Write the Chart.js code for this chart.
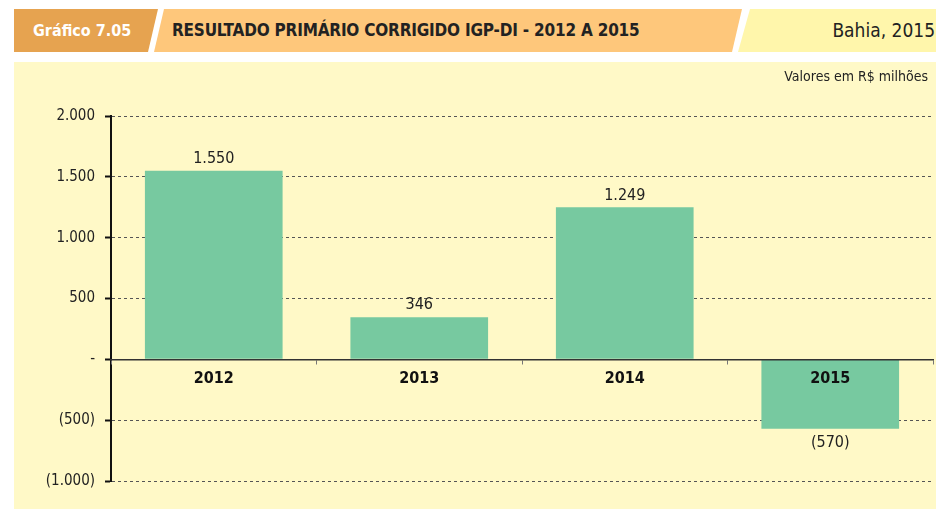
<!DOCTYPE html>
<html lang="pt-BR">
<head>
  <meta charset="UTF-8" />
  <title>Resultado primário corrigido IGP-DI - Bahia</title>
  <script src="https://cdn.jsdelivr.net/npm/chart.js"></script>
  <style>
    body {
      margin: 0;
      width: 936px;
      height: 509px;
      background: #fff;
      font-family: 'Liberation Sans Narrow', 'DejaVu Sans Condensed', 'Open Sans', sans-serif;
      position: relative;
      overflow: hidden;
    }
    .hdr {
      position: absolute; top: 9px; height: 43px; line-height: 43px;
      white-space: nowrap; overflow: hidden;
    }
    #tag {
      left: 14px; width: 144px; background: #E6A350;
      clip-path: polygon(0 0, 144px 0, 134px 43px, 0 43px);
      color: #fff; font-weight: bold; font-size: 16px;
    }
    #tag span { position: absolute; left: 19px; }
    #title {
      left: 154px; width: 588px; background: #FEC77B;
      clip-path: polygon(10px 0, 588px 0, 578px 43px, 0 43px);
      color: #222; font-weight: bold; font-size: 17px;
    }
    #title span { position: absolute; left: 18px; letter-spacing: -0.2px; }
    #place {
      left: 738px; width: 198px; background: #FFF6AB;
      clip-path: polygon(12px 0, 198px 0, 198px 43px, 0 43px);
      color: #222; font-size: 19px;
    }
    #place span { position: absolute; right: 1px; }
    #panel {
      position: absolute; left: 14px; top: 62px; width: 922px; height: 447px;
      background: #FFF9C7;
    }
    #unit {
      position: absolute; right: 8px; top: 6px; font-size: 14px; color: #222;
    }
  </style>
</head>
<body>
  <div class="hdr" id="tag"><span>Gráfico 7.05</span></div>
  <div class="hdr" id="title"><span>RESULTADO PRIMÁRIO CORRIGIDO IGP-DI - 2012 A 2015</span></div>
  <div class="hdr" id="place"><span>Bahia, 2015</span></div>
  <div id="panel">
    <div id="unit">Valores em R$ milhões</div>
    <canvas id="chart" width="922" height="447"></canvas>
  </div>

  <script>
    const years = ['2012', '2013', '2014', '2015'];
    const resultado = [1550, 346, 1249, -570];
    const yTicks = [-1000, -500, 0, 500, 1000, 1500, 2000];

    const FONT = "'Liberation Sans Narrow', 'DejaVu Sans Condensed', 'Open Sans', sans-serif";

    function fmt(v) {
      if (v === 0) return '-';
      const s = Math.abs(v).toString().replace(/\B(?=(\d{3})+(?!\d))/g, '.');
      return v < 0 ? '(' + s + ')' : s;
    }

    // value labels above positive bars, below negative ones
    const valueLabels = {
      id: 'valueLabels',
      afterDraw(chart) {
        const ctx = chart.ctx;
        const meta = chart.getDatasetMeta(0);
        ctx.save();
        ctx.font = '16px ' + FONT;
        ctx.fillStyle = '#222';
        ctx.textAlign = 'center';
        meta.data.forEach((bar, i) => {
          const v = resultado[i];
          if (v >= 0) {
            ctx.textBaseline = 'bottom';
            ctx.fillText(fmt(v), bar.x, bar.y - 4);
          } else {
            ctx.textBaseline = 'top';
            ctx.fillText(fmt(v), bar.x, bar.y + 6);
          }
        });
        ctx.restore();
      }
    };

    new Chart(document.getElementById('chart'), {
      type: 'bar',
      data: {
        labels: years,
        datasets: [{
          data: resultado,
          backgroundColor: '#77C9A0',
          categoryPercentage: 0.67,
          barPercentage: 1
        }]
      },
      plugins: [valueLabels],
      options: {
        responsive: false,
        animation: false,
        layout: { padding: { top: 54, right: 3, bottom: 28, left: 0 } },
        plugins: { legend: { display: false }, tooltip: { enabled: false } },
        scales: {
          x: {
            position: { y: 0 },
            grid: {
              drawOnChartArea: false,
              tickLength: 4,
              tickColor: '#777',
              tickWidth: 1,
              z: 1
            },
            border: { color: '#333', width: 1.5, z: 1 },
            ticks: {
              z: 1,
              padding: 6,
              color: '#111',
              font: { family: FONT, size: 16, weight: 'bold' }
            }
          },
          y: {
            min: -1000,
            max: 2000,
            afterFit(scale) { scale.width = 97; },
            afterBuildTicks(scale) { scale.ticks = yTicks.map(v => ({ value: v })); },
            grid: {
              color: ctx => ctx.tick && ctx.tick.value === 0 ? 'rgba(0,0,0,0)' : '#555',
              lineWidth: 1,
              tickLength: 6,
              tickColor: '#111',
              tickWidth: 2
            },
            border: {
              color: '#111',
              width: 2,
              dash: [3, 3]
            },
            ticks: {
              padding: 10,
              color: '#222',
              font: { family: FONT, size: 15 },
              callback: v => fmt(v)
            }
          }
        }
      }
    });
  </script>
</body>
</html>
